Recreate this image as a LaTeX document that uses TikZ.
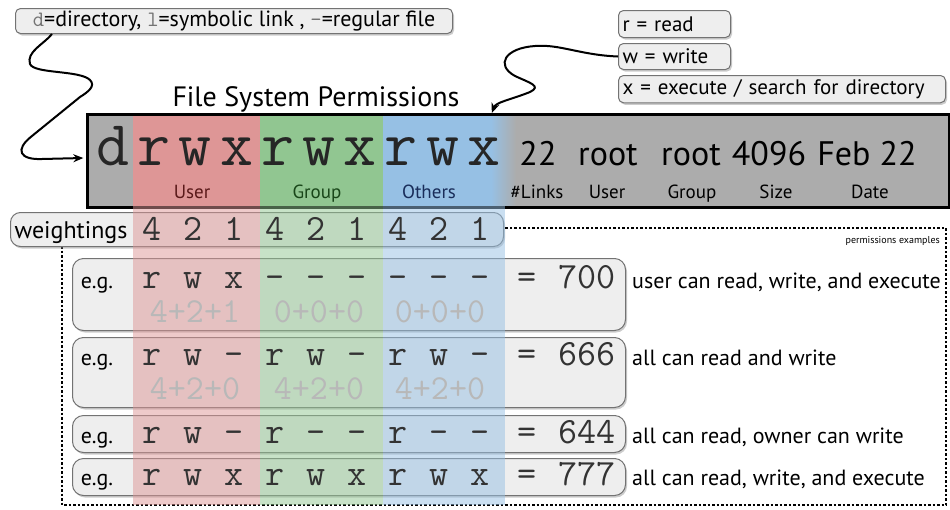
\documentclass[tikz,border=0pt]{standalone}
\usepackage{fontspec}
\setmainfont{PT Sans}
\usetikzlibrary{arrows.meta,shadows}

\definecolor{usercol}{RGB}{222,150,150}
\definecolor{groupcol}{RGB}{145,198,145}
\definecolor{otherscol}{RGB}{150,192,228}
\definecolor{listgray}{RGB}{172,172,172}
\definecolor{boxfill}{RGB}{238,238,238}
\definecolor{usertext}{RGB}{90,25,25}
\definecolor{grouptext}{RGB}{25,70,25}
\definecolor{otherstext}{RGB}{25,45,90}

\newcommand\mchar[1]{{\ttfamily\color{black!55}#1}}

\tikzset{
  keybox/.style={draw=black!55, line width=1pt, fill=boxfill, rounded corners=5pt,
    drop shadow={opacity=0.4, shadow xshift=1.5pt, shadow yshift=-2pt}},
  rowbox/.style={keybox, rounded corners=11pt},
  keytext/.style={keybox, anchor=north west, inner sep=4pt, align=left,
    font=\fontsize{21}{21}\selectfont},
  bigchar/.style={anchor=base, inner sep=0pt, font=\fontsize{64}{64}\selectfont\ttfamily, text=black!85},
  permchar/.style={anchor=base, inner sep=0pt, font=\fontsize{37}{37}\selectfont\ttfamily, text=black!80},
  sumtext/.style={anchor=base, inner sep=0pt, font=\fontsize{35}{35}\selectfont\ttfamily, text=black!28},
  fieldlabel/.style={anchor=base, inner sep=0pt, font=\fontsize{19}{19}\selectfont},
  fielddata/.style={anchor=base, inner sep=0pt, font=\fontsize{34}{34}\selectfont},
  notetext/.style={anchor=base, inner sep=0pt, font=\fontsize{22}{22}\selectfont},
  pointer/.style={-{Stealth[length=10pt,width=8pt]}, line width=2pt},
}

\begin{document}
\begin{tikzpicture}[x=1pt, y=-1pt]
        \fill[white] (0,0) rectangle (950,509);
        \useasboundingbox (0,0) rectangle (950,509);

        % frame of the examples
        \draw[line width=2.5pt, dash pattern=on 2.5pt off 2pt] (62,228) rectangle (946,505);
        \node[anchor=base east, inner sep=0pt, font=\fontsize{10}{10}\selectfont] (extitle) at (940,243) {permissions examples};

        % legend boxes
        \node[keytext, minimum width=437pt, minimum height=25pt, align=center, inner sep=2pt,
              font=\fontsize{22}{22}\selectfont] (keyd) at (15,8)
              {\mchar{d}=directory, \mchar{l}=symbolic link , \mchar{-}=regular file};
        \node[keytext, text width=104pt, minimum height=27pt] (keyr) at (618,10) {r = read};
        \node[keytext, text width=104pt, minimum height=26pt] (keyw) at (618,43) {w = write};
        \node[keytext, text width=319pt, minimum height=26pt] (keyx) at (618,75) {x = execute / search for directory};

        \node[anchor=base, font=\fontsize{28}{28}\selectfont] (title) at (316,106) {File System Permissions};

        % the listing line
        \fill[listgray] (86,113) rectangle (948,206);
        \fill[usercol] (133,113) rectangle (260,206);
        \fill[groupcol] (260,113) rectangle (383,206);
        \fill[otherscol] (383,113) rectangle (492,206);
        \shade[left color=otherscol, right color=listgray] (491,113) rectangle (516,206);
        \node[draw, line width=2.5pt, anchor=north west, inner sep=0pt,
              minimum width=862pt, minimum height=93pt] (perm) at (86,113) {};

        % weightings and examples
        \node[rowbox, rounded corners=10pt, anchor=north west, minimum width=493pt, minimum height=34pt] (weights) at (10,212) {};
        \node[rowbox, anchor=north west, minimum width=553pt, minimum height=72pt] (ex1) at (72,258) {};
        \node[rowbox, anchor=north west, minimum width=553pt, minimum height=70pt] (ex2) at (72,337) {};
        \node[rowbox, anchor=north west, minimum width=553pt, minimum height=37pt] (ex3) at (72,415) {};
        \node[rowbox, anchor=north west, minimum width=553pt, minimum height=37pt] (ex4) at (72,458) {};

        \fill[usercol, opacity=0.5] (133,206) rectangle (260,505);
        \fill[groupcol, opacity=0.5] (260,206) rectangle (383,505);
        \fill[otherscol, opacity=0.5] (383,206) rectangle (505,505);

        % place nodes
        \foreach \c [count=\k from 0] in {d,r,w,x,r,w,x,r,w,x}
            \node[bigchar] (big\k) at ({113+41.2*\k},165) {\c};

        \node[fieldlabel, text=usertext] (lbluser) at (192,198) {User};
        \node[fieldlabel, text=grouptext] (lblgroup) at (317,198) {Group};
        \node[fieldlabel, text=otherstext] (lblothers) at (429,198) {Others};

        \node[fielddata] (links) at (538,165) {22};
        \node[fielddata] (uname) at (608,165) {root};
        \node[fielddata] (gname) at (691,165) {root};
        \node[fielddata] (size) at (769,165) {4096};
        \node[fielddata] (date) at (867,165) {Feb 22};

        \node[fieldlabel] (lbllinks) at (537,198) {\#Links};
        \node[fieldlabel] (lbluname) at (607,198) {User};
        \node[fieldlabel] (lblgname) at (692,198) {Group};
        \node[fieldlabel] (lblsize) at (776,198) {Size};
        \node[fieldlabel] (lbldate) at (870,198) {Date};

        \node[notetext, font=\fontsize{24}{24}\selectfont] (wlabel) at (71,238) {weightings};
        \foreach \d [count=\k from 0] in {4,2,1,4,2,1,4,2,1}
            \node[permchar] (wt\k) at ({152+41*\k},240) {\d};

        \foreach \n/\yb/\bits/\val/\note in {
            1/288/{r,w,x,–,–,–,–,–,–}/700/{user can read, write, and execute},
            2/365/{r,w,–,r,w,–,r,w,–}/666/{all can read and write},
            3/443/{r,w,–,r,–,–,r,–,–}/644/{all can read, owner can write},
            4/485/{r,w,x,r,w,x,r,w,x}/777/{all can read, write, and execute}}
        {
            \node[notetext] (eg\n) at (97,\yb) {e.g.};
            \foreach \c [count=\k from 0] in \bits
                \node[permchar] (p\n c\k) at ({152+41*\k},\yb) {\c};
            \node[permchar] (eq\n) at (527,\yb) {=};
            \node[permchar] (val\n) at (587,\yb) {\val};
            \node[notetext, anchor=base west] (note\n) at (632,\yb) {\note};
        }

        \node[sumtext] (sum1u) at (195,322) {4+2+1};
        \node[sumtext] (sum1g) at (319,322) {0+0+0};
        \node[sumtext] (sum1o) at (440,322) {0+0+0};
        \node[sumtext] (sum2u) at (195,399) {4+2+0};
        \node[sumtext] (sum2g) at (319,399) {4+2+0};
        \node[sumtext] (sum2o) at (440,399) {4+2+0};

        % draw edges
        \coordinate (wtip) at (big9 |- perm.north);
        \draw[pointer] ([xshift=37pt]keyd.south west)
            .. controls (44,44) and (26,52) .. (30,64)
            .. controls (34,74) and (80,70) .. (90,80)
            .. controls (96,86) and (88,92) .. (80,97)
            -- (32,136)
            .. controls (14,150) and (20,160) .. (42,159)
            -- ([xshift=-13pt,yshift=7pt]big0.base west);
        \draw[pointer] (keyw.west)
            .. controls (580,55) and (560,44) .. (535,46)
            .. controls (505,48) and (495,65) .. (515,76)
            .. controls (530,83) and (542,86) .. (530,92)
            .. controls (510,100) and (496,102) .. ([xshift=8pt]wtip);
\end{tikzpicture}
\end{document}
